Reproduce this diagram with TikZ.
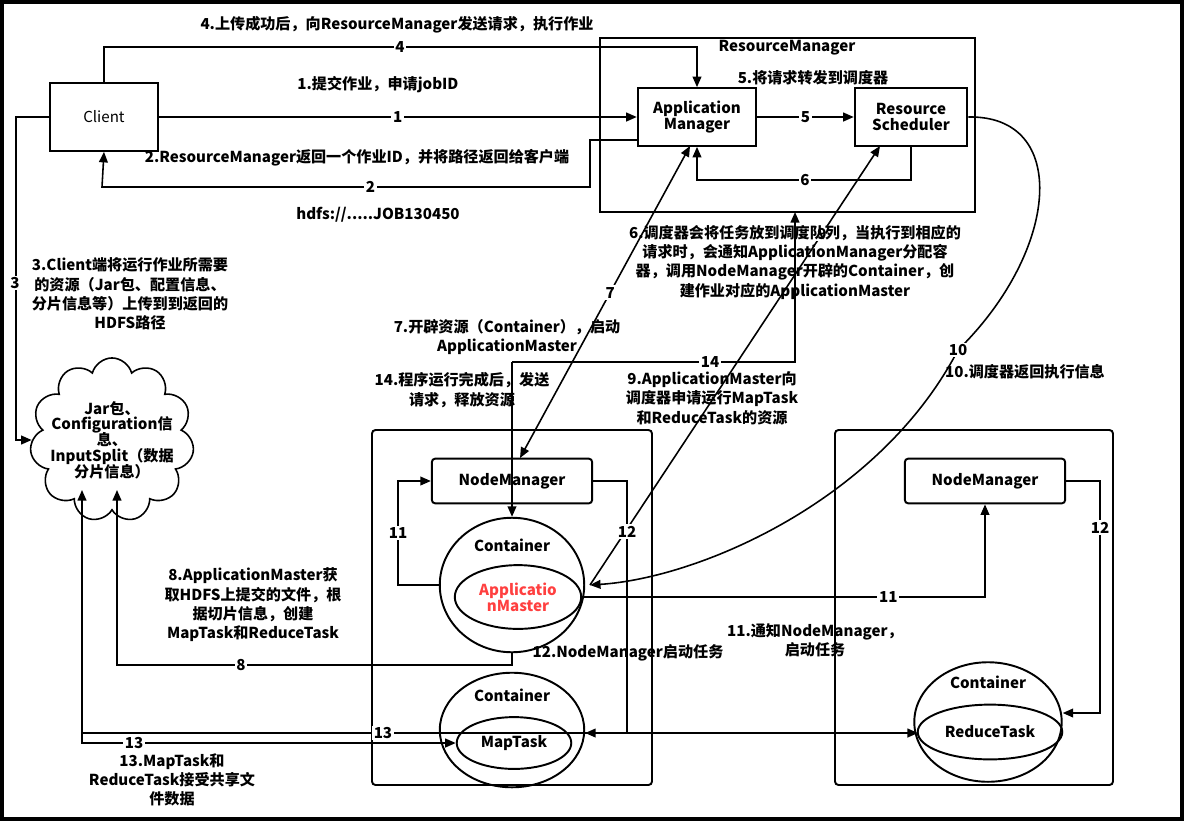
\documentclass[tikz,border=0pt]{standalone}
\usepackage{fontspec}
\setmainfont{Noto Sans CJK SC}
\usetikzlibrary{shapes.symbols,shapes.geometric,arrows.meta}
\begin{document}
\begin{tikzpicture}[x=0.02cm,y=-0.02cm,font=\fontsize{8.6}{11}\selectfont\bfseries,
    every path/.style={line width=0.9pt},
    flow/.style={-{Triangle[length=6pt,width=5pt]}},
    box/.style={draw, line width=1.1pt, align=center},
    num/.style={fill=white, inner sep=1pt, font=\fontsize{8.6}{11}\selectfont\bfseries},
    note/.style={align=center}]
    \useasboundingbox (0,0) rectangle (1184,823);
    \draw[line width=2pt] (2,2) rectangle (1182,819);

    % resource manager side
    \draw[line width=1.1pt] (600,38) rectangle (975,212);
    \node at (787,48) {ResourceManager};
    \node[box, minimum width=108*0.567pt, minimum height=68*0.567pt] (client) at (104,117) {\mdseries Client};
    \node[box, minimum width=119*0.567pt, minimum height=58*0.567pt] (am) at (697,117) {Application\\[-2pt]Manager};
    \node[box, minimum width=113*0.567pt, minimum height=58*0.567pt] (rs) at (911,117) {Resource\\[-2pt]Scheduler};

    % cloud
    \node[cloud, draw, cloud puffs=11, aspect=1, minimum width=120*0.567pt, minimum height=105*0.567pt, inner sep=-7pt, align=center] (hdfs) at (112,440) {Jar包、\\[-2pt]Configuration信\\[-2pt]息、\\[-2pt]InputSplit（数据\\[-2pt]分片信息）};

    % node managers
    \draw[line width=1.1pt, rounded corners=2pt] (372,430) rectangle (652,785);
    \draw[line width=1.1pt, rounded corners=2pt] (835,430) rectangle (1113,785);
    \node[box, rounded corners=2pt, minimum width=161*0.567pt, minimum height=45*0.567pt] (nm1) at (512,481) {NodeManager};
    \node[box, rounded corners=2pt, minimum width=161*0.567pt, minimum height=45*0.567pt] (nm2) at (985,481) {NodeManager};
    \node[ellipse, draw, line width=1.1pt, minimum width=145*0.567pt, minimum height=135*0.567pt] (cont1) at (512,585) {};
    \node at (512,545) {Container};
    \node[ellipse, draw, line width=1.1pt, minimum width=117*0.567pt, minimum height=64*0.567pt, text=red!75, align=center] (amst) at (518,597) {Applicatio\\[-2pt]nMaster};
    \node[ellipse, draw, line width=1.1pt, minimum width=145*0.567pt, minimum height=115*0.567pt] (cont2) at (512,730) {};
    \node at (512,695) {Container};
    \node[ellipse, draw, line width=1.1pt, minimum width=115*0.567pt, minimum height=52*0.567pt] (map) at (514,743) {MapTask};
    \node[ellipse, draw, line width=1.1pt, minimum width=148*0.567pt, minimum height=120*0.567pt] (cont3) at (988,722) {};
    \node at (988,682) {Container};
    \node[ellipse, draw, line width=1.1pt, minimum width=140*0.567pt, minimum height=55*0.567pt] (red) at (990,732) {ReduceTask};

    \coordinate (rmb) at (795,212);
    \coordinate (c14) at (512,362);
    \coordinate (c13) at (82,733);

    % connectors
    \draw[flow] (client) -- node[num] {1} (am);
    \draw[flow] (client.north) |- (400,47) node[num] {4} -| (am.north);
    \draw[flow] (am.west |- 0,140) -| (590,187) -- node[num, pos=0.45] {2} (102,187) -- (client.south);
    \draw[flow] (am) -- node[num] {5} (rs);
    \draw[flow] (rs.south) |- (805,180) node[num] {6} -| (am.south);
    \draw[flow] (client.west) -| (16,440) -- (hdfs.west);
    \node[num] at (15,283) {3};
    \draw[{Triangle[length=6pt,width=5pt]}-{Triangle[length=6pt,width=5pt]}] (690,146) -- node[num, pos=0.47] {7} (520,458);
    \draw[flow] (c14) -- (cont1.north);
    \draw[flow] (c14) -- node[num, pos=0.7] {14} (795,362) -- (rmb);
    \draw[flow] (590,585) -- node[num, pos=0.8] {9} (880,146);
    \draw[flow] (rs.east) .. controls (1070,115) and (1060,250) .. (958,350) node[num] {10} .. controls (880,500) and (700,578) .. (590,585);
    \draw[flow] (cont1.west) -| node[num, pos=0.75] {11} (398,481) -- (nm1.west);
    \draw[flow] (amst.east) -| node[num, pos=0.38] {11} (nm2.south);
    \draw[flow] (nm1.east) -| node[num, pos=0.6] {12} (627,733) -- (cont2.east |- 0,733);
    \draw[flow] (nm2.east) -| node[num, pos=0.6] {12} (1100,713) -- (cont3.east |- 0,713);
    \draw[flow] (cont1.south) |- (241,665) node[num] {8} -| (117,490);
    \draw[flow] (c13) -- (82,490);
    \draw[flow] (c13) -- node[num, pos=0.36] {13} (918,733);
    \draw[flow] (82,733) |- (134,743) node[num] {13} -- (map.west |- 0,743);

    % notes
    \node[note] at (397,25) {4.上传成功后，向ResourceManager发送请求，执行作业};
    \node[note] at (378,85) {1.提交作业，申请jobID};
    \node[note] at (813,78) {5.将请求转发到调度器};
    \node[note] at (357,158) {2.ResourceManager返回一个作业ID，并将路径返回给客户端};
    \node[note] at (378,215) {hdfs://.....JOB130450};
    \node[note] at (795,262) {6.调度器会将任务放到调度队列，当执行到相应的\\请求时，会通知ApplicationManager分配容\\器，调用NodeManager开辟的Container，创\\建作业对应的ApplicationMaster};
    \node[note] at (130,294) {3.Client端将运行作业所需要\\的资源（Jar包、配置信息、\\分片信息等）上传到到返回的\\HDFS路径};
    \node[note] at (507,337) {7.开辟资源（Container），启动\\ApplicationMaster};
    \node[note] at (462,390) {14.程序运行完成后，发送\\请求，释放资源};
    \node[note] at (712,398) {9.ApplicationMaster向\\调度器申请运行MapTask\\和ReduceTask的资源};
    \node[note] at (1025,372) {10.调度器返回执行信息};
    \node[note] at (253,605) {8.ApplicationMaster获\\取HDFS上提交的文件，根\\据切片信息，创建\\MapTask和ReduceTask};
    \node[note] at (628,653) {12.NodeManager启动任务};
    \node[note] at (815,640) {11.通知NodeManager，\\启动任务};
    \node[note] at (172,780) {13.MapTask和\\ReduceTask接受共享文\\件数据};
\end{tikzpicture}
\end{document}
